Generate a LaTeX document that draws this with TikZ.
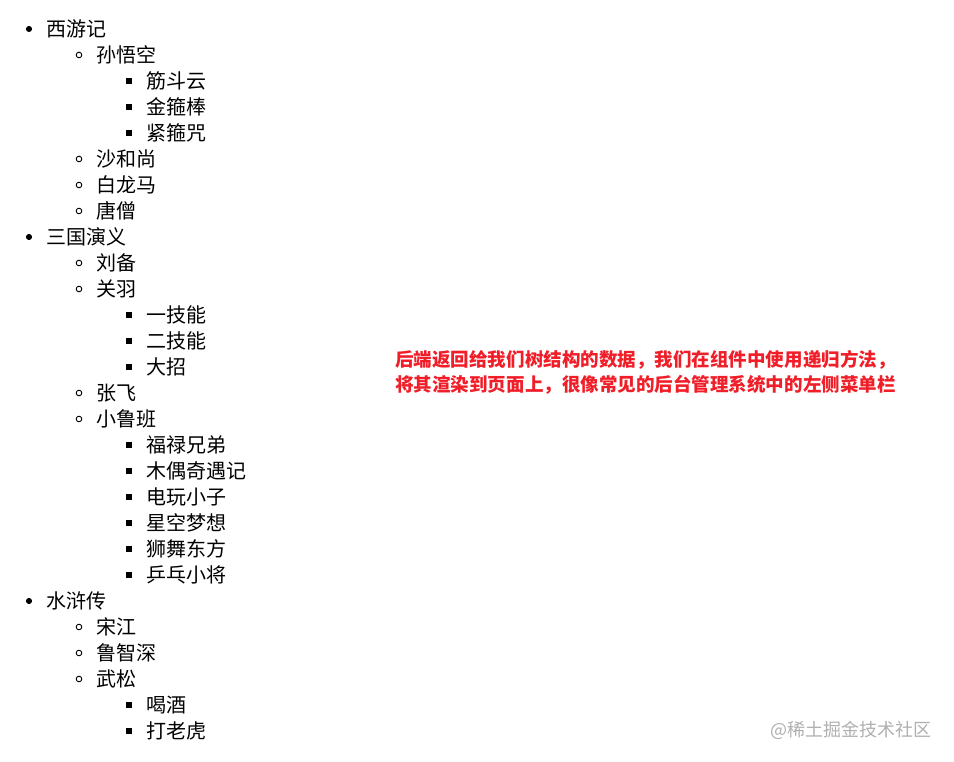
\documentclass[tikz,border=0pt]{standalone}
\usepackage{fontspec}
\newfontfamily\cjk{Noto Sans CJK SC}
\definecolor{notered}{RGB}{240,30,40}
\definecolor{markgray}{RGB}{175,175,175}
\tikzset{
  item/.style = {anchor = west, inner sep = 0, font = \cjk\fontsize{15}{18}\selectfont},
  bullet1/.style = {circle, fill, inner sep = 0, minimum size = 4.6pt},
  bullet2/.style = {circle, draw, line width = 0.7pt, inner sep = 0, minimum size = 4.2pt},
  bullet3/.style = {rectangle, fill, inner sep = 0, minimum size = 4.4pt},
}

\begin{document}
\begin{tikzpicture}[x = 0.75pt, y = -0.75pt]
\useasboundingbox (0,0) rectangle (954,762);
\foreach \lvl/\txt [count = \i] in {1/西游记, 2/孙悟空, 3/筋斗云, 3/金箍棒, 3/紧箍咒, 2/沙和尚, 2/白龙马, 2/唐僧,
  1/三国演义, 2/刘备, 2/关羽, 3/一技能, 3/二技能, 3/大招, 2/张飞, 2/小鲁班,
  3/福禄兄弟, 3/木偶奇遇记, 3/电玩小子, 3/星空梦想, 3/狮舞东方, 3/乒乓小将,
  1/水浒传, 2/宋江, 2/鲁智深, 2/武松, 3/喝酒, 3/打老虎}{
  \node[bullet\lvl] (b\i) at (29+50*\lvl-50, 3+26*\i) {};
  \node[item] (t\i) at (46+50*\lvl-50, 3+26*\i) {\txt};
}
\node[anchor = north west, inner sep = 0, align = left, text = notered,
  font = \cjk\bfseries\fontsize{13.9}{18.75}\selectfont] (note) at (395,350)
  {后端返回给我们树结构的数据，我们在组件中使用递归方法，\\将其渲染到页面上，很像常见的后台管理系统中的左侧菜单栏};
\node[anchor = east, inner sep = 0, text = markgray,
  font = \cjk\fontsize{13.5}{16}\selectfont] (mark) at (932,730) {@稀土掘金技术社区};
\end{tikzpicture}
\end{document}
